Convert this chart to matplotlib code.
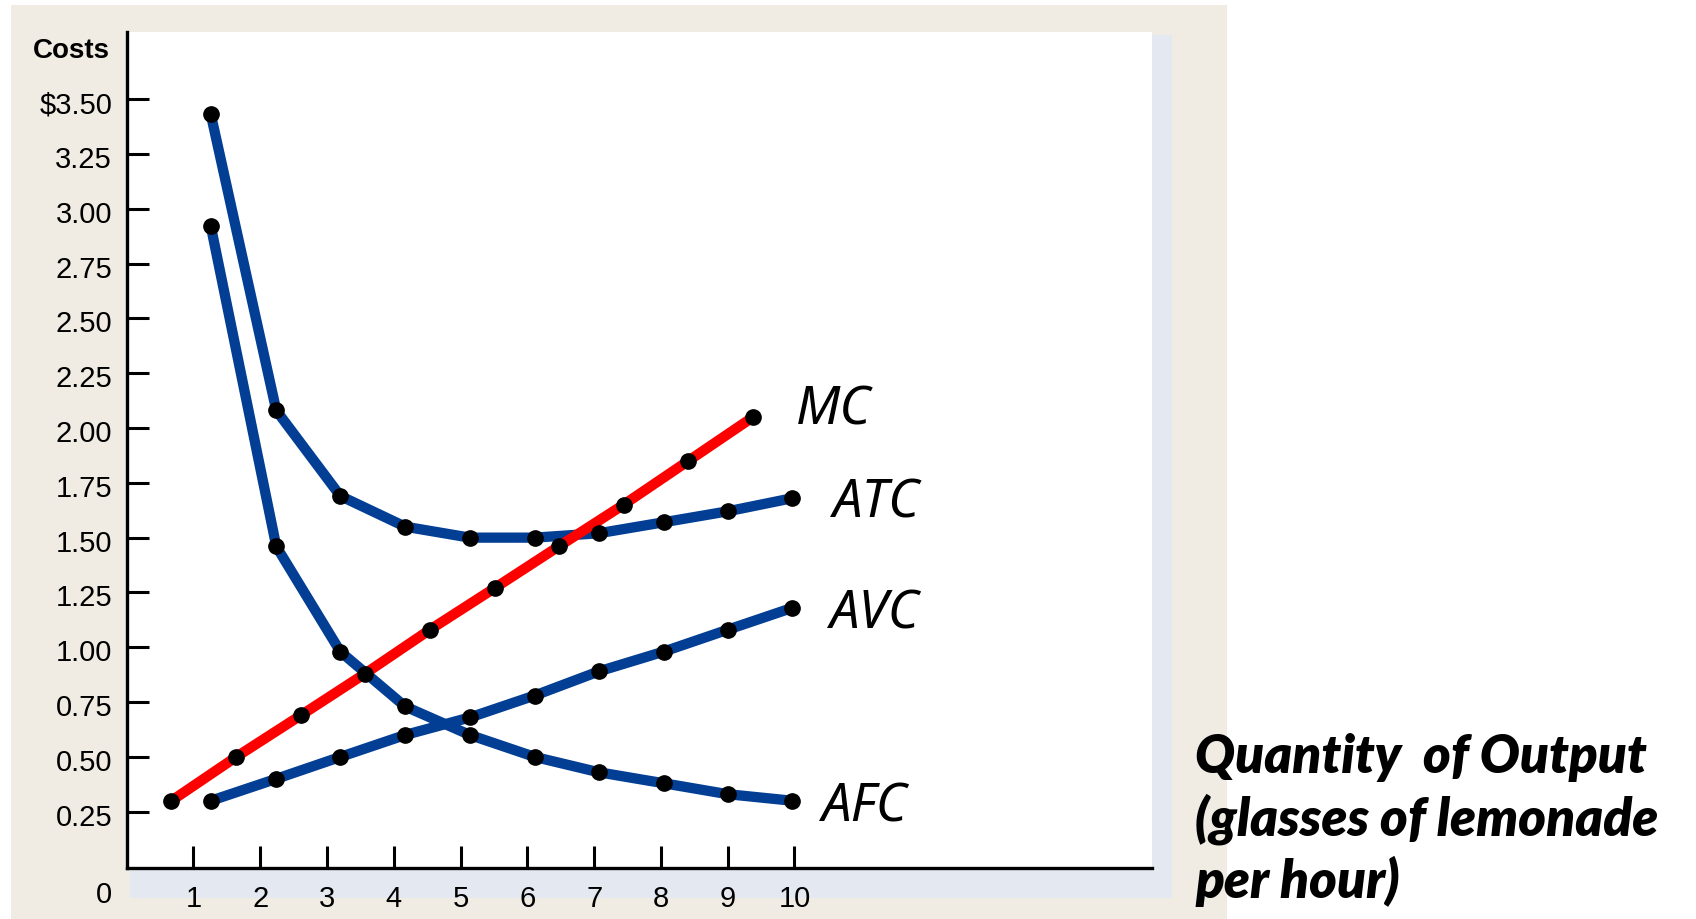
import matplotlib
matplotlib.use("Agg")
import matplotlib.pyplot as plt
import matplotlib.transforms as mtransforms
from matplotlib.patches import Rectangle

# quantity positions as drawn (glasses per hour)
q_avg = [1.26, 2.24, 3.20, 4.17, 5.14, 6.11, 7.07, 8.04, 9.00, 9.97]
q_mc = [0.67, 1.64, 2.61, 3.57, 4.54, 5.51, 6.47, 7.44, 8.41, 9.38]

mc = [0.30, 0.50, 0.69, 0.88, 1.08, 1.27, 1.46, 1.65, 1.85, 2.05]
atc = [3.43, 2.08, 1.69, 1.55, 1.50, 1.50, 1.52, 1.57, 1.62, 1.68]
avc = [0.30, 0.40, 0.50, 0.60, 0.68, 0.78, 0.89, 0.98, 1.08, 1.18]
afc = [2.92, 1.46, 0.98, 0.73, 0.60, 0.50, 0.43, 0.38, 0.33, 0.30]

y_ticks = [0.25, 0.50, 0.75, 1.00, 1.25, 1.50, 1.75, 2.00, 2.25, 2.50, 2.75, 3.00, 3.25, 3.50]
x_ticks = [1, 2, 3, 4, 5, 6, 7, 8, 9, 10]

W, H = 1696, 919
beige = '#F0ECE3'
blue = '#023E94'
red = '#FF0000'

fig = plt.figure(figsize=(W / 100, H / 100), dpi=100)
fig.patch.set_facecolor('white')

# beige panel and light shadow behind the plot area
fig.patches.append(Rectangle((11 / W, 0), (1227 - 11) / W, (H - 5) / H,
                             transform=fig.transFigure, facecolor=beige,
                             edgecolor='none', zorder=0))
fig.patches.append(Rectangle((130 / W, 1 - 898 / H), (1172 - 130) / W, (898 - 35) / H,
                             transform=fig.transFigure, facecolor='#E4E8F0',
                             edgecolor='none', zorder=0.5))

ax = fig.add_axes([126.7 / W, 1 - 868.3 / H, (1151.7 - 126.7) / W, (868.3 - 32) / H])
ax.set_zorder(2)
ax.set_facecolor('white')
ax.set_xlim(0, 15.35)
ax.set_ylim(-0.008, 3.806)

for s in ['top', 'right']:
    ax.spines[s].set_visible(False)
for s in ['left', 'bottom']:
    ax.spines[s].set_linewidth(2.4)
    ax.spines[s].set_color('black')

ax.set_yticks(y_ticks)
ax.set_yticklabels(['$%.2f' % v if v == 3.50 else '%.2f' % v for v in y_ticks])
ax.set_xticks(x_ticks)
ax.set_xticklabels([str(v) for v in x_ticks])
ax.tick_params(axis='both', direction='in', length=16, width=2.2, labelsize=21,
               colors='black')
ax.tick_params(axis='y', pad=10.5)
ax.tick_params(axis='x', pad=12)
# y labels sit a little below their ticks in the original
shift = mtransforms.ScaledTranslation(0, -3 / 100, fig.dpi_scale_trans)
for lab in ax.get_yticklabels():
    lab.set_transform(lab.get_transform() + shift)
for lab in ax.get_xticklabels() + ax.get_yticklabels():
    lab.set_family('Liberation Sans')

lw = 7.4
ax.plot(q_avg, atc, color=blue, lw=lw, solid_capstyle='butt', zorder=2)
ax.plot(q_avg, avc, color=blue, lw=lw, solid_capstyle='butt', zorder=2)
ax.plot(q_avg, afc, color=blue, lw=lw, solid_capstyle='butt', zorder=2)
ax.plot(q_mc, mc, color=red, lw=lw, solid_capstyle='butt', zorder=3)

for xs, ys in [(q_avg, atc), (q_avg, avc), (q_avg, afc), (q_mc, mc)]:
    ax.plot(xs, ys, linestyle='None', marker='o', ms=11, color='black', zorder=4)

# curve labels next to the last point of each curve
lab_font = dict(family='Noto Sans', style='italic', fontsize=38, color='black')
ax.annotate('MC', (q_mc[-1], mc[-1]), xytext=(43, 6), textcoords='offset pixels',
            ha='left', va='center', **lab_font)
ax.annotate('ATC', (q_avg[-1], atc[-1]), xytext=(40, -6), textcoords='offset pixels',
            ha='left', va='center', **lab_font)
ax.annotate('AVC', (q_avg[-1], avc[-1]), xytext=(37, -7), textcoords='offset pixels',
            ha='left', va='center', **lab_font)
ax.annotate('AFC', (q_avg[-1], afc[-1]), xytext=(29, -7), textcoords='offset pixels',
            ha='left', va='center', **lab_font)

fig.text(110 / W, 1 - 50.5 / H, 'Costs', ha='right', va='center', fontsize=20,
         fontweight='bold', family='Liberation Sans')
fig.text(104 / W, 1 - 895 / H, '0', ha='center', va='center', fontsize=21,
         family='Liberation Sans')

fig.text(1195 / W, 1 - 898 / H, 'Quantity  of Output\n(glasses of lemonade\nper hour)',
         ha='left', va='baseline', fontsize=38, fontweight='heavy', style='italic',
         family='Lato', linespacing=1.26, zorder=5)

fig.savefig('out.png', dpi=100, facecolor=fig.get_facecolor())
